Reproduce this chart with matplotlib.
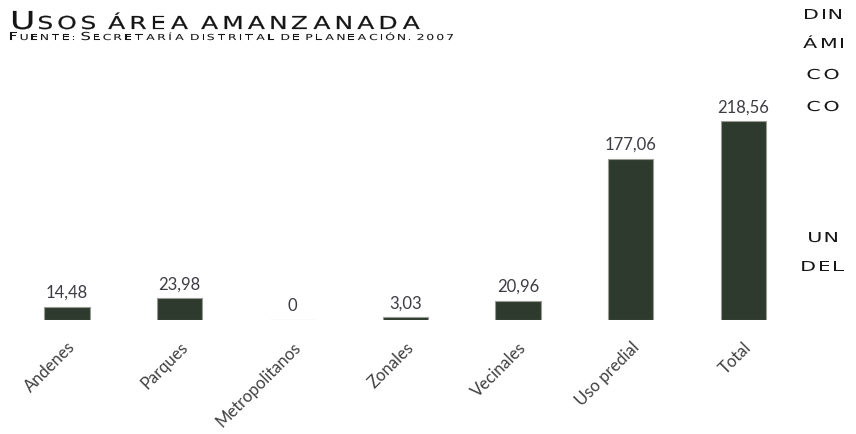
import matplotlib
matplotlib.use("Agg")
from matplotlib import pyplot as plt
from matplotlib.font_manager import FontProperties
from matplotlib.patches import PathPatch
from matplotlib.textpath import TextPath
from matplotlib.transforms import Affine2D, IdentityTransform

categories = ["Andenes", "Parques", "Metropolitanos", "Zonales", "Vecinales", "Uso predial", "Total"]
values = [14.48, 23.98, 0, 3.03, 20.96, 177.06, 218.56]

title = "Usos área amanzanada"
subtitle = "Fuente: Secretaría distrital de planeación. 2007"
side_words = ["DIN", "ÁMI", "CO", "CO", "UN", "DEL"]
side_base = [20, 49, 80, 112, 243, 272]  # baseline, px from top

BAR_COLOR = "#2f3a2f"
W, H = 856, 435
FP = FontProperties(family="DejaVu Sans")
CAP_H = TextPath((0, 0), "H", size=100, prop=FP).get_extents().height


def fmt(v):
    # Comma as decimal separator, like the original.
    if v == 0:
        return "0"
    return f"{v:.2f}".replace(".", ",")


def small_caps(s, big, small):
    # (char, cap height in px)
    chars = []
    for ch in s:
        if ch == " ":
            chars.append((" ", 0))
        elif ch.isupper():
            chars.append((ch, big))
        else:
            chars.append((ch.upper(), small))
    return chars


def glyphs(chars, sx):
    items = []
    for ch, cap in chars:
        if ch == " ":
            items.append((None, 0, 0, 0))
            continue
        p = TextPath((0, 0), ch, size=100, prop=FP)
        ext = p.get_extents()
        k = cap / CAP_H
        items.append((p, ext.width * sx * k, ext.x0, k))
    return items


def place(fig, items, start, gap, base_px, sx, color, lw):
    # Draw letters as paths, stretched sideways to mimic an extended face.
    cur = start
    y = H - base_px
    for p, w, x0, k in items:
        if p is None:
            cur += gap
            continue
        tr = Affine2D().translate(-x0, 0).scale(sx * k, k).translate(cur, y)
        fig.add_artist(PathPatch(tr.transform_path(p), facecolor=color, edgecolor=color,
                                 linewidth=lw, transform=IdentityTransform()))
        cur += w + gap


def fit_text(fig, x0, x1, base_px, chars, sx, color="#151515", lw=0.0):
    items = glyphs(chars, sx)
    widths = sum(it[1] for it in items)
    n_gaps = len(items) - 1 + sum(1 for it in items if it[0] is None)
    gap = (x1 - x0 - widths) / n_gaps
    place(fig, items, x0, gap, base_px, sx, color, lw)


def centered_text(fig, xc, base_px, chars, sx, gap, color="#151515"):
    items = glyphs(chars, sx)
    total = sum(it[1] for it in items) + gap * (len(items) - 1)
    place(fig, items, xc - total / 2, gap, base_px, sx, color, 0.0)


fig = plt.figure(figsize=(W / 100, H / 100), dpi=100)
ax = fig.add_axes([0.0124, 0.262, 0.922, 0.523])

ax.bar(range(len(categories)), values, width=0.4, color=BAR_COLOR,
       edgecolor="#9a9c94", linewidth=0.8)
ax.set_xlim(-0.5, len(categories) - 0.5)
ax.set_ylim(0, 250)

for i, v in enumerate(values):
    ax.annotate(fmt(v), (i, v), xytext=(0, 5), textcoords="offset points",
                ha="center", va="bottom", fontsize=12, color="#3c3c44", family="Lato")

ax.set_xticks(range(len(categories)))
ax.set_xticklabels(categories, rotation=45, ha="right", rotation_mode="anchor",
                   fontsize=12, color="#404040", family="Lato")
ax.tick_params(axis="x", length=0, pad=13)
ax.set_yticks([])
for s in ax.spines.values():
    s.set_visible(False)

# Title and source in an extended small-caps look.
fit_text(fig, 13, 433, 30, small_caps(title, 18, 13), 1.4, lw=0.15)
fit_text(fig, 10, 472, 41, small_caps(subtitle, 8, 6), 1.5, lw=0.05)

# Word fragments cut off at the right edge.
for word, b in zip(side_words, side_base):
    centered_text(fig, 823, b, small_caps(word.lower(), 10, 10), 1.5, 5)

fig.savefig("out.png", dpi=100)
